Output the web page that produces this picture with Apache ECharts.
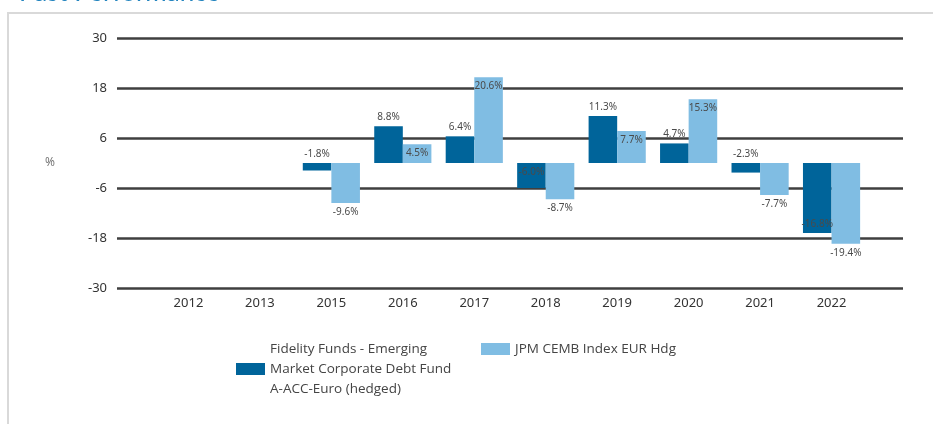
<!DOCTYPE html>
<html>
<head>
<meta charset="utf-8">
<script src="https://cdn.jsdelivr.net/npm/echarts@6/dist/echarts.min.js"></script>
<style>
  html, body { margin: 0; padding: 0; background: #fff; }
  #chart { width: 933px; height: 424px; }
</style>
</head>
<body>
<div id="chart"></div>
<script>
const years = ["2012", "2013", "2015", "2016", "2017", "2018", "2019", "2020", "2021", "2022"];
const fundReturns = [null, null, -1.8, 8.8, 6.4, -6.0, 11.3, 4.7, -2.3, -16.8];
const indexReturns = [null, null, -9.6, 4.5, 20.6, -8.7, 7.7, 15.3, -7.7, -19.4];

const FUND_NAME = "Fidelity Funds - Emerging\nMarket Corporate Debt Fund\nA-ACC-Euro (hedged)";
const INDEX_NAME = "JPM CEMB Index EUR Hdg";

// half a slot of empty room at each end of the axis
const categories = [""].concat(years, [" "]);
const pad = (arr) => [null].concat(arr, [null]);

function fundLabelPos(v) {
  if (v > -3) return "top";
  if (v > -10) return "insideTop";
  return "insideBottom";
}

function indexLabelPos(v) {
  return v >= 0 ? "insideTop" : "bottom";
}

function toItems(values, posFn) {
  return pad(values).map((v) => {
    if (v === null) return null;
    return { value: v, label: { position: posFn(v) } };
  });
}

const labelStyle = {
  show: true,
  fontSize: 10,
  color: "#4a4a4a",
  textBorderWidth: 0,
  fontFamily: "Noto Sans",
  distance: 4,
  formatter: (p) => p.value.toFixed(1) + "%",
};

const legendText = { fontSize: 13.5, lineHeight: 20, color: "#444", fontFamily: "Open Sans" };

const chart = echarts.init(document.getElementById("chart"), null, { renderer: "canvas" });

chart.setOption({
  animation: false,
  graphic: [
    {
      type: "rect",
      shape: { x: 8, y: 13, width: 960, height: 440 },
      style: { fill: "none", stroke: "#d9d9d9", lineWidth: 2 },
      silent: true,
    },
    {
      type: "text",
      x: 19,
      y: -20,
      style: {
        text: "Past Performance",
        font: "26px Lato",
        fill: "#2585bf",
      },
      silent: true,
    },
  ],
  legend: [
    {
      data: [FUND_NAME],
      left: 236,
      top: 339,
      padding: 0,
      itemWidth: 29,
      itemHeight: 12,
      icon: "rect",
      textStyle: legendText,
    },
    {
      data: [INDEX_NAME],
      left: 481,
      top: 339,
      padding: 0,
      itemWidth: 29,
      itemHeight: 12,
      icon: "rect",
      textStyle: legendText,
    },
  ],
  grid: {
    left: 117,
    right: 30,
    top: 38,
    bottom: 136,
  },
  xAxis: {
    type: "category",
    data: categories,
    boundaryGap: false,
    axisLine: { show: false },
    axisTick: { show: false },
    axisLabel: { color: "#333", fontSize: 13, fontFamily: "Noto Sans", margin: 9, interval: 0 },
    splitLine: { show: false },
  },
  yAxis: {
    type: "value",
    min: -30,
    max: 30,
    interval: 12,
    name: "%",
    nameLocation: "middle",
    nameRotate: 0,
    nameGap: 62,
    nameTextStyle: { color: "#777", fontSize: 12, fontFamily: "Noto Sans" },
    axisLine: { show: false },
    axisTick: { show: false },
    axisLabel: { color: "#333", fontSize: 13, fontFamily: "Noto Sans", margin: 10 },
    splitLine: { lineStyle: { color: "#3f3f3f", width: 2.5 } },
  },
  series: [
    {
      name: FUND_NAME,
      type: "bar",
      barGap: 0,
      barCategoryGap: "20%",
      itemStyle: { color: "#00649a" },
      label: labelStyle,
      data: toItems(fundReturns, fundLabelPos),
    },
    {
      name: INDEX_NAME,
      type: "bar",
      barGap: 0,
      barCategoryGap: "20%",
      itemStyle: { color: "#80bde3" },
      label: labelStyle,
      data: toItems(indexReturns, indexLabelPos),
    },
  ],
});
</script>
</body>
</html>
